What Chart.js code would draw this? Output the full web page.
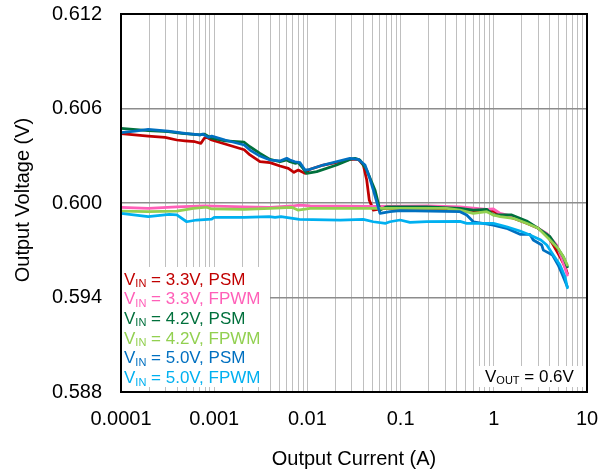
<!DOCTYPE html>
<html>
<head>
<meta charset="utf-8">
<script src="https://cdn.jsdelivr.net/npm/chart.js@4.4.1/dist/chart.umd.min.js"></script>
<style>
  html, body { margin: 0; padding: 0; background: #fff; }
</style>
</head>
<body>
<canvas id="chart" width="610" height="473"></canvas>
<script>
// output current (A), output voltage (V)
const psm33 = [[0.0001,0.6044],[0.000196,0.60425],[0.000297,0.60417],[0.000397,0.6040],[0.000486,0.60395],[0.000622,0.60389],[0.000721,0.60379],[0.000783,0.60411],[0.000832,0.60417],[0.00094,0.6040],[0.00142,0.60368],[0.0021,0.60338],[0.00242,0.60305],[0.0031,0.60262],[0.00397,0.60256],[0.00508,0.60235],[0.00624,0.6022],[0.00718,0.60195],[0.00798,0.60209],[0.00942,0.60188],[0.0107,0.60214],[0.0148,0.60241],[0.0224,0.60262],[0.0286,0.60277],[0.0352,0.60277],[0.0398,0.60241],[0.0433,0.60146],[0.0461,0.60019],[0.0509,0.59955],[0.0601,0.59962],[0.071,0.59966],[0.191,0.59966],[0.434,0.5996],[0.711,0.59949],[0.989,0.59949],[1.17,0.59924],[1.62,0.59903],[2.25,0.59871],[3.0,0.59839],[3.7,0.59797],[4.35,0.59733],[5.13,0.59659],[5.81,0.59595],[6.15,0.59553]];
const fpwm33 = [[0.0001,0.59973],[0.000196,0.59966],[0.000397,0.59976],[0.000783,0.59981],[0.0021,0.59976],[0.004,0.59973],[0.0068,0.59981],[0.0083,0.59987],[0.0107,0.59981],[0.05,0.59978],[0.191,0.59981],[0.434,0.59976],[0.84,0.5996],[0.989,0.59962],[1.17,0.59934],[1.62,0.59913],[2.25,0.59881],[3.0,0.59839],[3.7,0.59807],[4.73,0.59733],[5.35,0.59649],[6.15,0.59543]];
const psm42 = [[0.0001,0.60474],[0.000196,0.60459],[0.000322,0.60453],[0.000448,0.60442],[0.000705,0.60432],[0.00078,0.60438],[0.00094,0.60411],[0.00131,0.60395],[0.0021,0.60386],[0.00242,0.60357],[0.0031,0.60315],[0.00397,0.60277],[0.00508,0.60262],[0.006,0.60273],[0.0065,0.60262],[0.00736,0.60252],[0.008,0.60256],[0.00869,0.6023],[0.00982,0.60188],[0.0126,0.60199],[0.0206,0.60241],[0.0286,0.60277],[0.0324,0.60284],[0.0366,0.60273],[0.0433,0.60209],[0.0531,0.60083],[0.0601,0.59955],[0.071,0.59976],[0.191,0.59976],[0.434,0.59966],[0.603,0.59955],[0.84,0.5996],[0.989,0.59924],[1.56,0.59924],[2.25,0.59886],[3.0,0.59839],[4.01,0.59786],[4.73,0.59722],[5.57,0.59659],[6.15,0.59595]];
const fpwm42 = [[0.0001,0.59949],[0.000196,0.59945],[0.000397,0.59949],[0.000597,0.59966],[0.00083,0.59973],[0.00094,0.59962],[0.0021,0.5996],[0.004,0.59966],[0.0068,0.59973],[0.0079,0.59955],[0.0107,0.59966],[0.05,0.59966],[0.313,0.59966],[0.434,0.59955],[0.6,0.59934],[0.84,0.59945],[0.989,0.59924],[1.17,0.59913],[1.62,0.59903],[2.25,0.59871],[3.0,0.59839],[4.01,0.59765],[4.9,0.59712],[5.57,0.59659],[6.15,0.59606]];
const psm50 = [[0.0001,0.60446],[0.000141,0.60457],[0.000196,0.60468],[0.00032,0.60457],[0.000486,0.60442],[0.000705,0.60432],[0.00075,0.60438],[0.000865,0.60417],[0.00094,0.60425],[0.00131,0.604],[0.0021,0.60368],[0.00242,0.60336],[0.0031,0.60298],[0.00397,0.60273],[0.00508,0.60267],[0.006,0.60284],[0.0065,0.60273],[0.00736,0.60262],[0.00834,0.60256],[0.00942,0.60209],[0.0107,0.60214],[0.0148,0.60241],[0.0224,0.60268],[0.0286,0.60284],[0.0352,0.60277],[0.0415,0.60241],[0.0461,0.60167],[0.0509,0.60083],[0.0601,0.59934],[0.0769,0.59945],[0.0987,0.59951],[0.434,0.59945],[0.512,0.59924],[0.603,0.59881],[0.989,0.5986],[1.37,0.59839],[1.91,0.59801],[2.44,0.59801],[2.65,0.59765],[3.27,0.59733],[3.4,0.59701],[4.26,0.5967],[4.9,0.59606],[5.46,0.59543],[6.15,0.59468]];
const fpwm50 = [[0.0001,0.59934],[0.000196,0.59913],[0.00033,0.59928],[0.000397,0.59924],[0.000507,0.59881],[0.000649,0.59892],[0.00094,0.59898],[0.001,0.59909],[0.0021,0.59909],[0.0039,0.59913],[0.0045,0.59909],[0.0052,0.59913],[0.0082,0.59896],[0.0225,0.59892],[0.0398,0.59896],[0.0509,0.59881],[0.069,0.59871],[0.0769,0.59881],[0.0987,0.59892],[0.126,0.59877],[0.191,0.59881],[0.434,0.59883],[0.512,0.59871],[0.989,0.59871],[1.37,0.59849],[1.91,0.59822],[2.44,0.59797],[3.2,0.59765],[3.7,0.59733],[4.35,0.5967],[5.13,0.59606],[5.81,0.59532],[6.15,0.59462]];

const seriesLabels = ['3.3V, PSM', '3.3V, FPWM', '4.2V, PSM', '4.2V, FPWM', '5.0V, PSM', '5.0V, FPWM'];
const seriesColors = ['#c00000', '#ff5fb8', '#00703c', '#92d050', '#0070c0', '#00b0f0'];
const seriesData = [psm33, fpwm33, psm42, fpwm42, psm50, fpwm50];

const xDecades = [0.0001, 0.001, 0.01, 0.1, 1, 10];
const xTickLabels = ['0.0001', '0.001', '0.01', '0.1', '1', '10'];
const yTicks = [0.588, 0.594, 0.600, 0.606, 0.612];
const xTitle = 'Output Current (A)';
const yTitle = 'Output Voltage (V)';
const annotation = ['V', 'OUT', ' = 0.6V'];

const FONT = '"Liberation Sans", Arial, sans-serif';

// gridlines at 1..9 of each decade
const xGrid = [];
xDecades.forEach((d, i) => {
  if (i === xDecades.length - 1) { xGrid.push(d); return; }
  for (let m = 1; m <= 9; m++) xGrid.push(+(d * m).toPrecision(3));
});

function subText(ctx, x, y, main, sub, rest, size) {
  ctx.font = size + 'px ' + FONT;
  ctx.fillText(main, x, y);
  x += ctx.measureText(main).width;
  const subSize = Math.round(size * 0.65);
  ctx.font = subSize + 'px ' + FONT;
  ctx.fillText(sub, x, y + 4);
  x += ctx.measureText(sub).width;
  ctx.font = size + 'px ' + FONT;
  ctx.fillText(rest, x, y);
}

const overlays = {
  id: 'overlays',
  beforeDatasetsDraw(chart) {
    const { ctx, chartArea: a } = chart;
    ctx.save();
    // white boxes behind the legend and the Vout note
    ctx.fillStyle = '#fff';
    ctx.fillRect(a.left, a.bottom - 125, 149, 120);
    ctx.fillRect(a.right - 110, a.bottom - 26, 110, 21);

    ctx.textBaseline = 'middle';
    ctx.textAlign = 'left';
    seriesLabels.forEach((lbl, i) => {
      ctx.fillStyle = seriesColors[i];
      subText(ctx, a.left + 3, a.bottom - 112 + i * 19.7, 'V', 'IN', ' = ' + lbl, 17);
    });
    ctx.fillStyle = '#000';
    subText(ctx, a.right - 102, a.bottom - 15, annotation[0], annotation[1], annotation[2], 17);
    ctx.restore();
  },
  afterDraw(chart) {
    const { ctx, chartArea: a } = chart;
    ctx.save();
    ctx.strokeStyle = '#000';
    ctx.lineWidth = 2;
    ctx.strokeRect(a.left, a.top, a.right - a.left, a.bottom - a.top);

    ctx.fillStyle = '#000';
    ctx.textAlign = 'center';
    ctx.textBaseline = 'middle';
    ctx.font = '20px ' + FONT;
    ctx.fillText(xTitle, (a.left + a.right) / 2, 459);
    ctx.translate(23, 200);
    ctx.rotate(-Math.PI / 2);
    ctx.font = '20px ' + FONT;
    ctx.fillText(yTitle, 0, 0);
    ctx.restore();
  }
};

function noPad(scale) {
  scale.paddingTop = 0;
  scale.paddingBottom = 0;
  scale.paddingLeft = 0;
  scale.paddingRight = 0;
}

new Chart(document.getElementById('chart'), {
  type: 'line',
  data: {
    datasets: seriesData.map((pts, i) => ({
      label: seriesLabels[i],
      data: pts.map(p => ({ x: p[0], y: p[1] })),
      borderColor: seriesColors[i],
      backgroundColor: seriesColors[i],
      borderWidth: 2.75,
      pointRadius: 0,
      tension: 0,
      fill: false,
      borderJoinStyle: 'round',
      borderCapStyle: 'round',
      order: seriesData.length - i
    }))
  },
  options: {
    responsive: false,
    animation: false,
    devicePixelRatio: 1,
    layout: { padding: { top: 14, right: 23, left: 0, bottom: 0 } },
    plugins: {
      legend: { display: false },
      tooltip: { enabled: false }
    },
    scales: {
      x: {
        type: 'logarithmic',
        min: 0.0001,
        max: 10,
        afterBuildTicks: scale => { scale.ticks = xGrid.map(v => ({ value: v })); },
        afterFit: scale => { scale.height = 81; noPad(scale); },
        border: { display: false },
        grid: { color: '#bfbfbf', lineWidth: 1, drawTicks: false },
        ticks: {
          autoSkip: false,
          maxRotation: 0,
          padding: 15,
          color: '#000',
          font: { family: FONT, size: 20 },
          callback: value => {
            const i = xDecades.findIndex(d => Math.abs(d - value) < d * 1e-6);
            return i >= 0 ? xTickLabels[i] : '';
          }
        }
      },
      y: {
        min: 0.588,
        max: 0.612,
        afterBuildTicks: scale => { scale.ticks = yTicks.map(v => ({ value: v })); },
        afterFit: scale => { scale.width = 121; noPad(scale); },
        border: { display: false },
        grid: { color: '#8c8c8c', lineWidth: 1.5, drawTicks: false },
        ticks: {
          padding: 19,
          color: '#000',
          font: { family: FONT, size: 20 },
          callback: value => value.toFixed(3)
        }
      }
    }
  },
  plugins: [overlays]
});
</script>
</body>
</html>
